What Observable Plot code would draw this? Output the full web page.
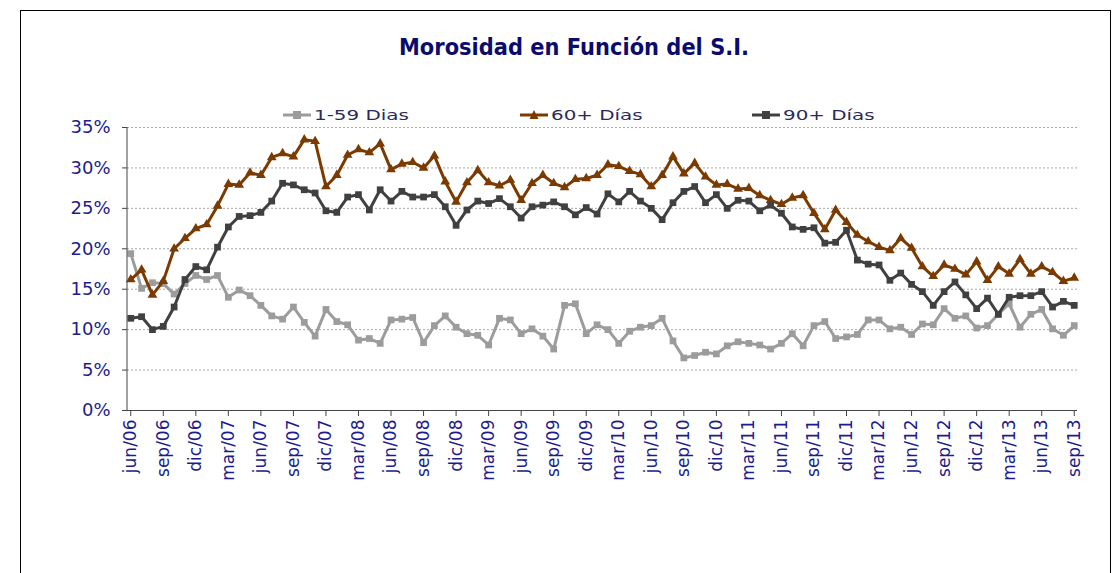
<!DOCTYPE html>
<html><head><meta charset="utf-8">
<script src="https://cdn.jsdelivr.net/npm/d3@7"></script>
<script src="https://cdn.jsdelivr.net/npm/@observablehq/plot@0.6"></script>
<style>
body{margin:0;background:#fff;font-family:"DejaVu Sans",sans-serif;}
#border{position:absolute;left:20px;top:10px;width:1091px;height:620px;border:1px solid #000;box-sizing:border-box;}
#title{position:absolute;left:0;width:1148px;top:35px;text-align:center;font-weight:bold;font-size:21px;color:#0b0b6e;white-space:nowrap;transform:scaleY(1.1);}
.item{position:absolute;top:106px;height:18px;display:flex;align-items:center;font-size:14px;color:#2a2a5c;white-space:nowrap;}
.item span{display:inline-block;transform:scaleX(1.42);transform-origin:left center;}
.item svg{margin-right:3px;}
#chart{position:absolute;left:0;top:100px;}
</style></head><body>
<div id="border"></div>
<div id="title">Morosidad en Función del S.I.</div>
<div id="legend"></div>
<div id="chart"></div>
<script>
const months = ["jun/06","jul/06","ago/06","sep/06","oct/06","nov/06","dic/06",
"ene/07","feb/07","mar/07","abr/07","may/07","jun/07","jul/07","ago/07","sep/07","oct/07","nov/07","dic/07",
"ene/08","feb/08","mar/08","abr/08","may/08","jun/08","jul/08","ago/08","sep/08","oct/08","nov/08","dic/08",
"ene/09","feb/09","mar/09","abr/09","may/09","jun/09","jul/09","ago/09","sep/09","oct/09","nov/09","dic/09",
"ene/10","feb/10","mar/10","abr/10","may/10","jun/10","jul/10","ago/10","sep/10","oct/10","nov/10","dic/10",
"ene/11","feb/11","mar/11","abr/11","may/11","jun/11","jul/11","ago/11","sep/11","oct/11","nov/11","dic/11",
"ene/12","feb/12","mar/12","abr/12","may/12","jun/12","jul/12","ago/12","sep/12","oct/12","nov/12","dic/12",
"ene/13","feb/13","mar/13","abr/13","may/13","jun/13","jul/13","ago/13","sep/13"];

const tickLabels = ["jun/06","sep/06","dic/06","mar/07","jun/07","sep/07","dic/07","mar/08","jun/08","sep/08",
"dic/08","mar/09","jun/09","sep/09","dic/09","mar/10","jun/10","sep/10","dic/10","mar/11","jun/11","sep/11",
"dic/11","mar/12","jun/12","sep/12","dic/12","mar/13","jun/13","sep/13"];

const seriesNames = ["1-59 Dias","60+ Días","90+ Días"];

const d1_59 = [19.4,15.1,15.8,15.7,14.4,15.7,16.7,16.2,16.7,14.0,14.9,14.2,13.0,11.7,11.3,12.8,10.9,9.2,12.5,11.0,
10.6,8.7,8.9,8.3,11.2,11.3,11.5,8.4,10.5,11.7,10.3,9.5,9.3,8.1,11.4,11.2,9.5,10.1,9.2,7.6,
13.0,13.2,9.5,10.6,10.0,8.3,9.8,10.3,10.5,11.4,8.6,6.5,6.8,7.2,7.0,8.0,8.5,8.3,8.1,7.6,
8.3,9.5,8.0,10.5,11.0,8.9,9.1,9.4,11.2,11.2,10.1,10.3,9.4,10.7,10.6,12.6,11.4,11.7,10.2,10.5,
11.9,13.2,10.3,11.9,12.5,10.1,9.3,10.5];

const d60 = [16.2,17.4,14.3,16.0,20.0,21.3,22.5,23.0,25.3,28.0,27.9,29.4,29.1,31.3,31.8,31.4,33.5,33.3,27.7,29.1,
31.6,32.3,31.9,33.0,29.8,30.5,30.7,30.0,31.5,28.3,25.8,28.2,29.7,28.2,27.8,28.5,26.0,28.1,29.1,28.1,
27.6,28.6,28.7,29.1,30.4,30.2,29.6,29.2,27.7,29.1,31.4,29.3,30.6,28.9,27.9,28.0,27.4,27.5,26.6,26.0,
25.5,26.3,26.6,24.4,22.4,24.8,23.3,21.7,20.9,20.2,19.8,21.3,20.1,17.8,16.6,18.0,17.5,16.8,18.4,16.1,
17.8,16.9,18.7,16.9,17.8,17.1,16.0,16.4];

const d90 = [11.4,11.6,10.0,10.4,12.8,16.2,17.8,17.4,20.2,22.7,24.0,24.1,24.5,25.9,28.1,27.9,27.3,26.9,24.7,24.5,
26.4,26.7,24.8,27.3,25.9,27.1,26.4,26.4,26.7,25.2,22.9,24.8,25.9,25.6,26.2,25.2,23.8,25.2,25.4,25.8,
25.2,24.2,25.1,24.3,26.8,25.8,27.1,25.9,25.0,23.6,25.7,27.1,27.7,25.7,26.7,25.0,26.0,25.9,24.7,25.4,
24.4,22.7,22.4,22.6,20.7,20.8,22.3,18.6,18.1,18.0,16.1,17.0,15.6,14.7,13.0,14.7,15.9,14.3,12.6,13.9,
11.9,14.0,14.2,14.2,14.7,12.8,13.5,13.0];

const yTicks = [0,5,10,15,20,25,30,35];

const colors = ["#9c9c9c","#7a3a00","#404040"];
const symbols = ["square","triangle","square"];
const seriesValues = [d1_59, d60, d90];

const rows = [];
seriesNames.forEach((s, k) => seriesValues[k].forEach((v, i) => rows.push({series: s, month: months[i], value: v})));

const W = 1119, H = 400;
const marks = [
  Plot.gridY(yTicks, {stroke: "#a8a8a8", strokeOpacity: 1, strokeDasharray: "2,2"}),
  Plot.axisY(yTicks, {tickSize: 5, tickPadding: 12, tickFormat: d => d + "%", fontSize: 18, fill: "#1c1c8c", stroke: "#444", label: null}),
  Plot.axisX(tickLabels, {tickRotate: -90, tickSize: 6, tickPadding: 3, fontSize: 17, fill: "#1c1c8c", stroke: "#444", label: null}),
  Plot.ruleY([0], {stroke: "#444", strokeWidth: 1})
];
seriesNames.forEach((s, k) => {
  const data = rows.filter(r => r.series === s);
  marks.push(Plot.line(data, {x: "month", y: "value", stroke: colors[k], strokeWidth: 3}));
  marks.push(Plot.dot(data, {x: "month", y: "value", fill: colors[k], stroke: "none", symbol: symbols[k], r: k === 1 ? 3.6 : 3.8}));
});

const plot = Plot.plot({
  width: W, height: H,
  marginTop: 27, marginLeft: 127, marginRight: 42, marginBottom: 90,
  style: {fontFamily: "DejaVu Sans", background: "transparent"},
  x: {type: "point", domain: months, padding: 0.3},
  y: {domain: [0, 35]},
  marks
});
// left axis line, placed from the plot's own scales
const xs = plot.scale("x"), ys = plot.scale("y");
d3.select(plot).append("line")
  .attr("x1", xs.range[0]).attr("x2", xs.range[0])
  .attr("y1", ys.range[0]).attr("y2", ys.range[1])
  .attr("stroke", "#444");
document.getElementById("chart").appendChild(plot);

// legend
const legendLeft = [283, 520, 752];
const legend = document.getElementById("legend");
seriesNames.forEach((s, k) => {
  const div = document.createElement("div");
  div.className = "item";
  div.style.left = legendLeft[k] + "px";
  const sym = symbols[k] === "square"
    ? `<rect x="10" y="5" width="8" height="8" fill="${colors[k]}"/>`
    : `<path d="M14,4 L18.5,13 L9.5,13 Z" fill="${colors[k]}"/>`;
  div.innerHTML = `<svg width="28" height="18"><line x1="0" x2="28" y1="9" y2="9" stroke="${colors[k]}" stroke-width="3"/>${sym}</svg><span>${s}</span>`;
  legend.appendChild(div);
});
</script>
</body></html>
